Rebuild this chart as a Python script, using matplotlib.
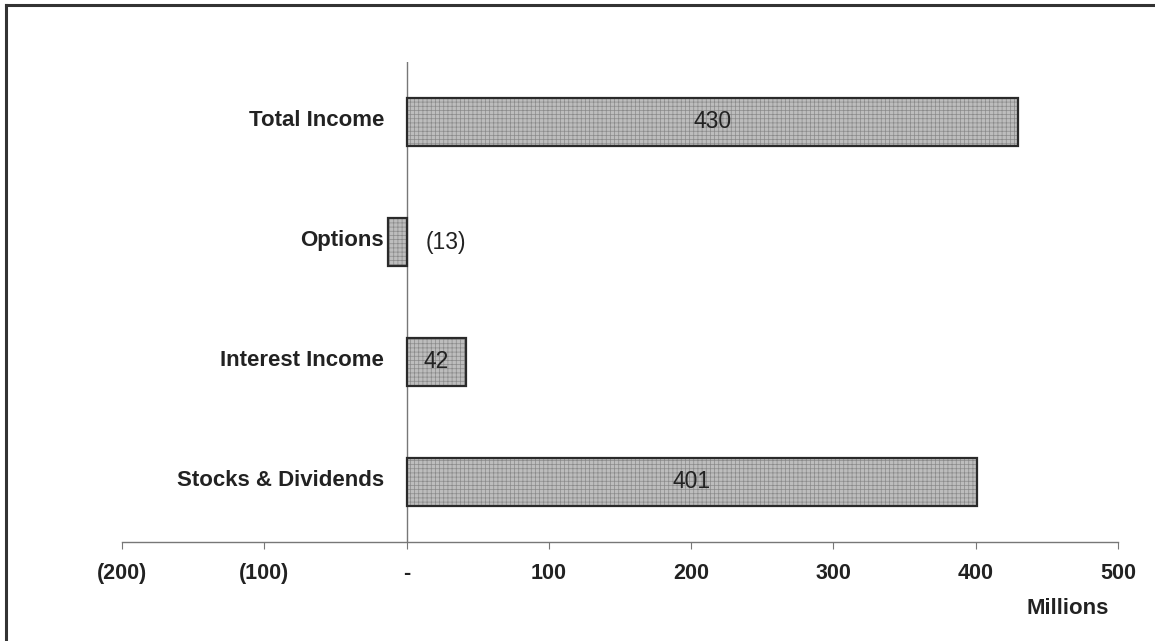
import matplotlib
matplotlib.use("Agg")
import matplotlib.pyplot as plt
from matplotlib.lines import Line2D

categories = ["Stocks & Dividends", "Interest Income", "Options", "Total Income"]
values = [401, 42, -13, 430]
value_labels = ["401", "42", "(13)", "430"]
xticks = [-200, -100, 0, 100, 200, 300, 400, 500]
xtick_labels = ["(200)", "(100)", "-", "100", "200", "300", "400", "500"]

plt.rcParams['font.family'] = ['Liberation Sans', 'DejaVu Sans']
plt.rcParams['hatch.linewidth'] = 0.5

fig = plt.figure(figsize=(11.55, 6.41), dpi=100)
ax = fig.add_axes([122/1155, 1 - 542/641, (1118 - 122)/1155, (542 - 62)/641])

ypos = list(range(len(categories)))
ax.barh(ypos, values, height=0.4, color='#bdbdbd', edgecolor='#8a8a8a',
        hatch='++++', linewidth=0, zorder=2)
ax.barh(ypos, values, height=0.4, color='none', edgecolor='#2a2a2a',
        linewidth=1.6, zorder=3)

for y, v, lab in zip(ypos, values, value_labels):
    if v >= 0:
        ax.text(v / 2, y, lab, ha='center', va='center', fontsize=16.5,
                color='#222222', zorder=4)
    else:
        ax.annotate(lab, xy=(0, y), xytext=(14, 0), textcoords='offset points',
                    ha='left', va='center', fontsize=16.5, color='#222222')

# category labels, right-aligned just left of the zero line
for y, cat, v in zip(ypos, categories, values):
    x0 = min(v, 0)
    ax.annotate(cat, xy=(x0, y), xytext=(-3 if v < 0 else -16, 1),
                textcoords='offset points', ha='right', va='center',
                fontsize=16, fontweight='bold', color='#222222')

ax.axvline(0, color='#777777', linewidth=1.0, zorder=1)
ax.set_xlim(-200, 500)
ax.set_ylim(-0.5, 3.5)
ax.set_xticks(xticks)
ax.set_xticklabels(xtick_labels, fontsize=15.5, fontweight='bold', color='#222222')
ax.set_yticks([])
ax.tick_params(axis='x', direction='out', length=5, color='#777777', pad=10)
for s in ['left', 'right', 'top']:
    ax.spines[s].set_visible(False)
ax.spines['bottom'].set_color('#777777')
ax.spines['bottom'].set_linewidth(1.0)

fig.text(1068/1155, 1 - 608/641, "Millions", ha='center', va='center',
         fontsize=16, fontweight='bold', color='#222222')

# outer frame (top and left edges visible)
fig.add_artist(Line2D([6/1155, 1.0], [1 - 5/641, 1 - 5/641],
                      transform=fig.transFigure, color='#333333', linewidth=2.2))
fig.add_artist(Line2D([6/1155, 6/1155], [0, 1 - 5/641],
                      transform=fig.transFigure, color='#333333', linewidth=2.2))

fig.savefig("out.png", dpi=100)
